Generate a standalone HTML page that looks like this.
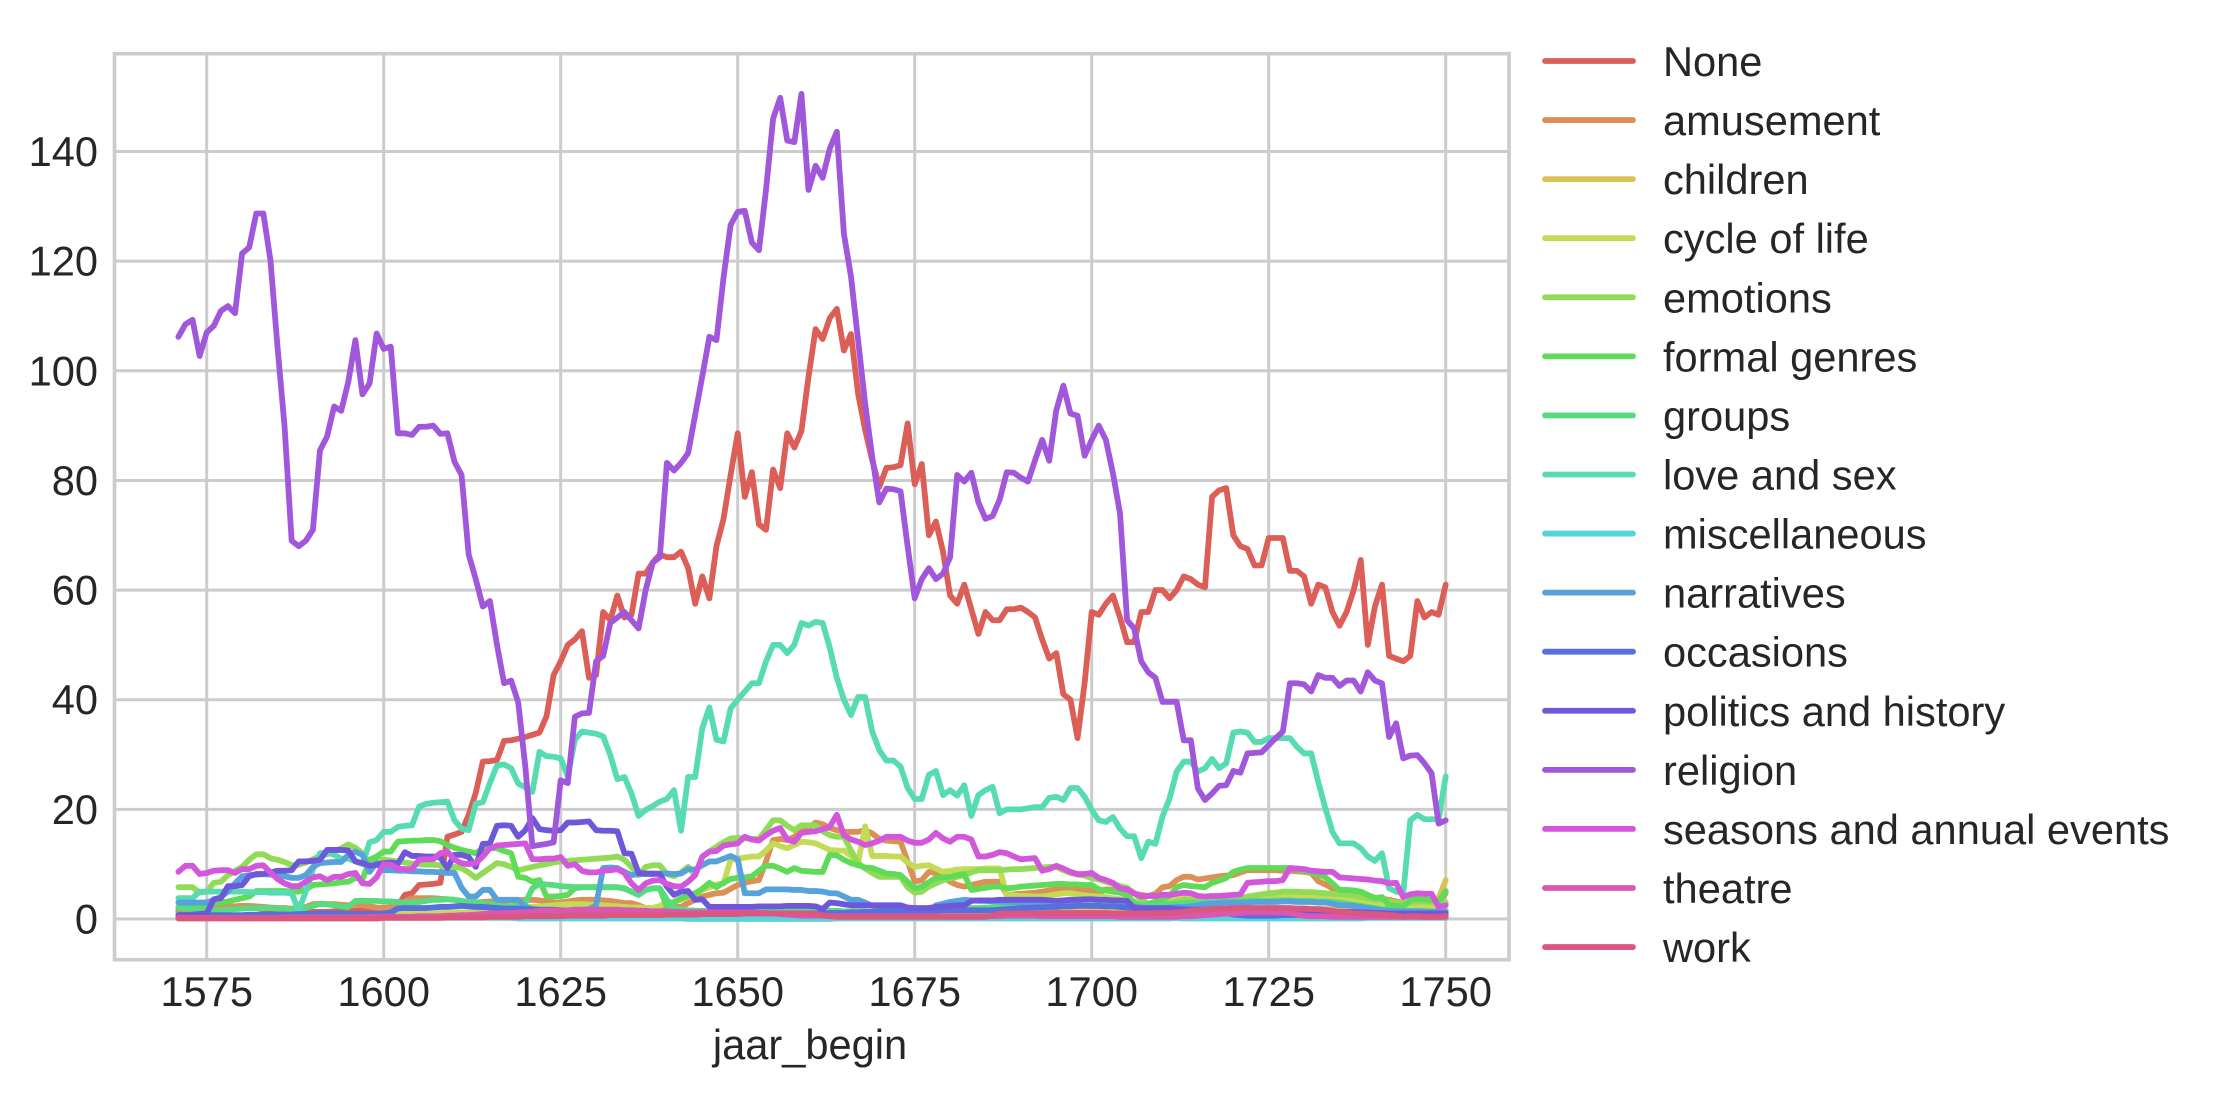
<!DOCTYPE html>
<html lang="en">
<head>
<meta charset="utf-8">
<title>Songs per theme by year</title>
<style>
html,body{margin:0;padding:0;background:#fff;}
svg{display:block;font-family:"Liberation Sans",Arial,sans-serif;}
text{fill:#262626;font-size:41.6px;}
</style>
</head>
<body>
<svg id="chart" xmlns="http://www.w3.org/2000/svg" width="2215" height="1097" viewBox="0 0 2215 1097">
  <rect x="0" y="0" width="2215" height="1097" fill="#ffffff"/>
  <g id="grid"></g>
  <g id="series"></g>
  <g id="spines"></g>
  <g id="xticks"></g>
  <g id="yticks"></g>
  <text x="810" y="1059" text-anchor="middle">jaar_begin</text>
  <g id="legend"></g>
</svg>
<script>
const firstYear = 1571;
const xTickLabels = [1575, 1600, 1625, 1650, 1675, 1700, 1725, 1750];
const yTickLabels = [0, 20, 40, 60, 80, 100, 120, 140];

const themeNames = ["None","amusement","children","cycle of life","emotions","formal genres","groups","love and sex","miscellaneous","narratives","occasions","politics and history","religion","seasons and annual events","theatre","work"];
const themeColors = ["#db5f57","#db9057","#dbc257","#c3db57","#91db57","#5fdb57","#57db80","#57dbb2","#57d3db","#57a2db","#5770db","#6f57db","#a157db","#d357db","#db57b2","#db5780"];

const valuesNone = [
1.5,1.6,1.7,1.8,2,2.2,2.2,2.3,2.3,2.4,
2.4,2,1.8,1.7,1.6,1.5,1.5,1.4,1.4,1.3,
1.3,1.3,1.4,1.4,1.5,1.5,1.6,1.7,1.8,1.9,
2,2.4,4.4,4.7,6.2,6.3,6.4,6.6,15,15.4,
15.9,19,23,28.7,28.8,29,32.5,32.6,32.9,33.2,
33.6,34,37,44.5,47,50,51,52.5,44,44.5,
56,54.5,59,55,55.5,63,63,65,66.5,66,
66,67,64,57.5,62.5,58.5,68,73,81,88.6,
77,81.5,72,71,82,78.6,88.6,86,89,98.9,
107.6,105.8,109.6,111.3,103.7,106.7,95.9,89.2,83.7,78.8,
82.3,82.4,82.8,90.4,79.3,83,70,72.5,67,59,
57.5,61,56.5,52,56,54.5,54.5,56.5,56.5,56.8,
56,55,51,47.5,48.5,41,40,33,43,56,
55.5,57.5,59,55,50.5,50.5,56,56,60,60,
58.5,60,62.5,62,61,60.5,77,78.2,78.6,70,
68,67.5,64.5,64.5,69.5,69.5,69.5,63.5,63.5,62.5,
57.5,61,60.5,56,53.5,56,60,65.5,50,57,
61,48,47.5,47,48,58,55,56,55.5,61];

const valuesAmusement = [
1.2,1.3,1.5,1.7,2,2.2,2.2,2.3,2.3,2.4,
2.4,2.3,2.2,2.1,2,2,1.9,2,2.2,2.7,
2.8,2.7,2.7,2.6,2.5,2.6,2.5,2.3,2.1,2,
2.2,2.6,3.2,3.8,3.8,3.8,3.8,3.7,3.6,3.5,
3.2,2.9,3,3.1,3.2,3.3,3.3,3.4,3.4,3.5,
3.5,3.4,3.2,3,3,3.2,3.4,3.5,3.5,3.5,
3.4,3.3,3.1,2.9,2.9,2.5,2,2,2,2.1,
2.2,2.2,2.9,3.5,4.1,4.4,4.7,4.8,5.5,6.2,
6.6,6.9,7.1,10.5,14.4,14.6,14.4,15,15.9,16.6,
17.6,17.3,16.6,16.2,15.9,15.9,15.9,16.2,15.6,14.6,
14.3,14.2,14.1,10.5,6.8,7.1,8.6,8.4,7.6,6.8,
6.2,5.9,6.2,6.5,6.8,6.8,6.8,4.4,4.5,4.6,
4.7,4.8,5,5.2,5.4,5.6,5.5,5.4,5.3,5.2,
4.8,5.4,5.3,5.1,4.9,4.6,4.4,4.2,4.6,5.8,
6,7.1,7.7,7.7,7.2,7.4,7.6,7.8,7.9,8,
8.5,8.9,8.9,8.9,8.9,8.9,8.8,8.8,8.7,8.6,
8.4,6.9,6.3,5.6,5.3,5,4.7,4.4,4.2,3.9,
3.7,3.5,3.2,3,3,3,3,3,3,4.7];

const valuesChildren = [
.3,.3,.3,.3,.3,.4,.4,.4,.4,.4,
.4,.4,.4,.4,.4,.4,.3,.3,.3,.3,
.3,.3,.3,.3,.3,.4,.4,.4,.4,.5,
.5,.5,.5,.6,.6,.6,.6,.6,.7,.7,
.7,.8,.8,.8,.9,.9,.9,1,1,1,
1,1,1.1,1.1,1.1,1.1,1.1,1.1,1,1,
1,1,1,1,1,.9,.9,.9,.9,.9,
.9,.9,.9,1,1,1,1.1,1.1,1.1,1.1,
1.1,1.2,1.2,1.2,1.2,1.2,1.2,1.2,1.2,1.2,
1.2,1.2,1.2,1.1,1.1,1.1,1.1,1.1,1,1,
1,1,1,1,1,1,1,1.1,1.1,1.1,
1.1,1.1,1.1,1.1,1.2,1.2,1.2,1.2,1.2,1.2,
1.2,1.2,1.3,1.3,1.3,1.3,1.4,1.4,1.4,1.4,
1.4,1.4,1.5,1.5,1.5,1.5,1.5,1.5,1.5,1.5,
1.6,1.6,1.6,1.6,1.7,1.7,1.7,1.7,1.8,1.8,
1.8,1.8,1.8,1.9,1.9,1.9,1.9,1.9,1.9,1.9,
1.9,1.8,1.8,1.8,1.8,1.7,1.7,1.7,1.6,1.6,
1.6,1.5,1.5,1.5,1.5,1.6,1.7,1.9,3.8,7.1];

const valuesCycleOfLife = [
.4,.4,.4,.4,.4,.4,.5,.5,.5,.5,
.5,.5,.5,.5,.5,.5,.5,.5,.5,.5,
.5,.5,.6,.6,.6,.6,.6,.6,.6,.7,
.7,.8,.9,1,1,1,1,1.1,1.1,1.2,
1.2,1.2,1.3,1.4,1.5,2,2,2.1,2.2,2.2,
2.2,2.3,2.4,2.5,2.6,2.7,2.7,2.7,2.6,2.6,
2.5,2.4,2.3,2.2,2.1,2.1,2,2,2.4,2.9,
3.2,3.5,4,4.6,5.3,5.8,6.3,6.5,10.8,11,
11.2,11.4,11.4,12.5,13.8,13.3,12.9,13.5,14.1,14,
13.8,13.2,12.6,12.5,12.5,11.5,10.2,16.9,11.5,11.5,
11.5,11.4,11.4,10.3,9.5,9.7,9.8,9.2,8.6,8.8,
9,9.1,9.1,9.1,9.2,9.2,9.2,4.4,4.3,4.2,
4.2,4.1,4.1,4.3,4.5,4.7,4.7,4.5,4.3,4.2,
4.1,4,3.8,3.6,3.5,3.2,2.5,2.2,2.6,3.1,
3.4,3.7,3.8,3.8,3.7,3.6,3.5,3.6,3.7,3.8,
3.8,3.9,3.9,4,4,4,4,4,4,3.9,
3.9,3.8,3.8,3.7,3.6,3.6,3.5,3.4,3.2,2.9,
2.7,2.5,2.4,2.6,2.6,2.5,2.4,2.3,2.2,2.9];

const valuesEmotions = [
5.8,5.8,5.8,4.8,5,6.6,6.8,8,8.8,9.5,
10.8,11.8,11.8,11.1,10.8,10.4,9.8,9.9,10.3,10.9,
11.5,11.8,12.4,12.9,13.6,13,12,10.2,10.8,10.8,
10.7,10.5,10.3,10.1,10,9.9,9.9,9.8,8.9,9.5,
9.3,8.5,7.5,8.4,9.3,10.2,10,9.5,8.9,9.2,
9.5,9.8,10,10.3,10.5,10.6,10.7,10.8,10.9,11,
11.1,11.2,11.4,10.8,9.5,8,9.5,9.8,9.8,8.2,
7.8,8.5,9.5,8,11.3,12.3,13.2,14,14.7,14.8,
14.7,14.6,14.6,16.3,18,18,17,16.2,17.1,17.1,
17.1,16,15.3,15,15,12.5,10.2,9.2,8.4,7.7,
7.7,7.7,7.7,5.8,4.8,5,5.9,6.5,7.1,7.4,
7.7,8,8.5,8.9,8.9,8.9,8.9,9,9.1,9.1,
9.2,9.3,9.4,9.5,9.5,8.9,8.4,8.1,7.9,7.5,
7.2,6.8,6.4,6,5.7,4.7,3.5,2.8,2.5,2.5,
2.8,3.2,3.5,3.5,3,2.8,3,3.5,3.6,3.6,
3.8,4.1,4.3,4.5,4.7,4.8,5,5,5,4.9,
4.9,4.8,4.7,4.6,4.5,4.4,4.3,4,3.8,3.5,
3.5,3.2,3,3,3,3.2,3.2,3.1,3,3];

const valuesFormalGenres = [
2.2,2.2,2.2,2.2,2.2,2.9,3,3.2,3.5,3.8,
4.1,5.1,5.1,5.1,5.1,5.1,5,5,5.4,6.2,
6.3,6.4,6.5,6.7,6.8,7.5,7.2,10.8,11.4,12.3,
12.3,14.1,14.2,14.3,14.3,14.4,14.4,14.2,13.5,13,
12.6,12.3,12,12.9,12.9,12.9,12.4,12,7.7,7.5,
6.8,7.1,4.1,4.1,4.2,4.4,5.6,5.8,5.8,5.8,
5.8,5.8,5.8,5.5,5,4.4,5.3,5.6,5.6,2.2,
3,3.8,4.2,4.7,5.5,6.6,5.8,6.6,7.3,7.5,
7.6,7.8,8.8,9.7,9.7,9.2,8.6,9.3,8.8,8.7,
8.6,8.6,11.7,11.6,10.8,10.2,9.8,9.4,9.3,8.8,
8.3,8.2,8,6.8,5.6,5.9,6.7,7.5,7.6,7.7,
8,8.2,5.3,5.5,5.7,5.9,5.9,5.6,5.7,5.9,
6,6.1,6.2,6.3,6.4,6.4,6.3,6.3,6.2,6.2,
5.4,5.2,5,4.8,4.4,2.9,2.4,2.7,3.2,3.5,
4.2,5.8,6.2,6,5.9,5.8,6.6,7,7.5,8.6,
9,9.3,9.3,9.3,9.3,9.3,9.3,9.3,9,8.8,
8.4,8.1,7.6,6.5,5.3,5.3,5.2,5,4.4,3.8,
4,2.5,2.4,2.2,3.5,3.7,3.6,3.5,3.1,5.1];

const valuesGroups = [
2,1.9,1.8,1.6,1.3,1.5,1.6,1.7,1.8,1.9,
2,2,2,2,1.9,1.9,1.8,1.8,2,2.4,
2.7,2.7,2.5,2.3,2.2,3.3,3.3,3.3,3.3,3.2,
3.2,3.1,3,3,3.1,3.3,3.5,3.5,3.6,3.5,
3.3,3.1,3,2.9,2.8,2.5,2.3,2.3,2.5,2.9,
5.6,6.4,6.3,6.2,6,5.9,5.8,5.8,5.8,5.8,
5.8,5.8,5.8,5.6,5,4.4,5.3,5.6,5.6,3.5,
2,1.8,1.6,1.5,1.5,1.4,1.4,1.4,1.4,1.4,
1.5,1.5,1.6,1.6,1.6,1.7,1.7,1.7,1.6,1.6,
1.6,1.5,1.5,1.5,1.4,1.4,1.4,1.4,1.3,1.3,
1.3,1.2,1.2,1.2,1.2,1.3,1.4,1.5,1.6,1.7,
1.8,1.9,2,2,2.1,2.1,2.2,2.2,2.3,2.3,
2.4,2.4,2.5,2.5,2.6,2.6,2.7,2.7,2.7,2.8,
2.8,2.8,2.7,2.7,2.6,2.5,2.5,2.4,2.5,2.6,
2.7,2.8,2.9,2.9,3,3,3.1,3.1,3.2,3.2,
3.2,3.3,3.3,3.3,3.3,3.4,3.4,3.4,3.3,3.3,
3.3,3.2,3.2,3.1,3,2.8,2.6,2.4,2.2,2,
1.8,1.7,1.6,1.5,1.5,1.5,1.5,1.4,1.4,1.5];

const valuesLoveAndSex = [
3.8,3.8,3.8,5,5,5,5,5,5,5,
4.9,4.9,4.9,4.8,4.8,4.8,4.7,1.6,5,9,
12,12.2,11.7,11,11,10.5,10,14,14.4,15.9,
15.9,16.8,17,17.1,20.5,21,21.2,21.3,21.4,18,
16.5,16.2,21,21.3,24.8,28,28.2,27.5,24.7,24,
23.2,30.5,29.7,29.6,29.3,26,32.7,34.2,34,33.8,
33.3,29.9,25.5,25.9,22.9,18.8,19.9,20.6,21.4,21.9,
23.5,16.1,25.9,25.9,34.8,38.6,32.7,32.4,38.4,40,
41.5,43,43,47,50,50,48.5,50,54,53.5,
54.2,54,49.5,44,40,37.2,40.5,40.5,34.2,30.8,
28.9,28.9,27.8,23.9,21.9,21.9,26.3,27,22.6,23.5,
22.5,24.4,18.8,22.6,23.5,24.1,19.3,20,20,20,
20.2,20.4,20.4,22.1,22.3,21.7,23.9,23.9,22.3,19.9,
18,17.7,18.6,16.5,15.1,15.1,11.1,14.1,13.7,18.7,
22,26.9,28.7,28.7,26.9,27.5,29.2,27.5,28.4,34,
34.2,34,32.3,32.3,33,33,33,33,31.4,30.2,
30.2,25,20.2,15.9,13.8,13.8,13.8,12.9,11.4,10.6,
12,5.6,5,4.7,18,19,18.2,18.2,18.2,26];

const valuesMiscellaneous = [
.6,.6,.5,.5,.5,.4,.4,.4,.4,.3,
.3,.3,.3,.3,.3,.3,.3,.3,.2,.2,
.2,.2,.2,.2,.2,.2,.2,.2,.2,.2,
.2,.2,.2,.2,.2,.2,.2,.2,.2,.2,
.2,.2,.2,.2,.2,.2,.2,.2,.1,.1,
.1,.1,.1,.1,.1,.1,.1,.1,.1,.1,
.1,.1,.1,.1,.1,.1,.1,.1,.1,.1,
.1,.1,0,0,0,0,0,0,0,0,
0,0,0,0,0,0,0,0,0,0,
0,0,0,.1,.1,.1,.1,.1,.1,.1,
.1,.1,.1,.1,.1,.1,.1,.1,.1,.1,
.1,.1,.1,.1,.1,.1,.1,.1,.1,.1,
.1,.1,.1,.1,.1,.1,.1,.1,.1,.1,
.1,.1,.1,.1,.1,.1,.1,.1,.1,.1,
.1,.2,.1,.1,.1,.1,.1,.1,.1,.1,
.1,.1,.1,.1,.1,.1,.1,.1,.1,.1,
.1,.1,.1,.1,.1,.1,.1,.1,.2,.2,
.2,.2,.2,.2,.2,.2,.2,.2,.2,.2];

const valuesNarratives = [
3,3,3,3,3,3.5,4,5,6.5,7.8,
8,8.1,8.2,8.1,8,7.8,7.5,7.5,8,9.5,
10.2,10.3,10.4,10.4,11.7,12.3,11.7,8.6,10.2,8.9,
8.9,8.8,8.8,8.7,8.7,8.6,8.6,8.5,8.4,8.4,
5.7,4.1,4.1,5.3,5.3,3.5,3.5,3.5,3.5,2.2,
1.8,1.6,1.5,1.4,1.4,1.4,1.5,1.6,1.8,2.5,
9.3,9.4,9.3,8.6,8,8.2,8.2,8.2,8.3,8.3,
8.2,8.3,9.1,9,9.8,10.5,10.5,11,11.5,10.9,
4.7,4.7,4.7,5.4,5.4,5.4,5.4,5.3,5.3,5.1,
5.1,5,4.7,4.7,4.1,3.5,3.5,3,2.4,2,
2,2,1.9,1.5,1.3,1.3,1.5,2.5,2.8,3.1,
3.3,3.5,3.4,3.3,3.3,3.2,3.2,3.1,3.1,3,
3,3,2.9,2.9,2.8,2.8,2.7,2.6,2.5,2.4,
2.4,2.4,2.4,2.3,2.3,2.3,2.1,2,2,2,
2.1,2.2,2.2,2.3,2.5,2.7,2.8,2.9,3,3,
3,3,3.1,3.1,3.1,3.1,3.2,3.2,3.1,3.1,
3.1,3,3,2.8,2.5,2.5,2.4,2.2,2,1.8,
1.6,1.5,1.5,1.4,1.4,1.4,1.3,1.3,1.3,1.3];

const valuesOccasions = [
.7,.7,.7,.7,.7,.7,.7,.7,.7,.7,
.8,.8,.8,.8,.8,.8,.8,.9,.9,.9,
1,1,1,1,.9,.9,.9,.9,.9,1,
1.2,1.9,2,2,2,2,2.1,2.2,2.2,2.3,
2.4,2.3,2.2,2.2,2.1,2,1.9,1.9,1.9,1.8,
1.8,1.7,1.7,1.7,1.6,1.5,1.5,1.4,1.3,1.3,
1.2,1.2,1.2,1.2,1.1,1,1,1,1,1,
1,1,1,1,1,1,1,1,1.1,1.1,
1.1,1.1,1.1,1,1,1,1,1,1,1,
1,1,1.1,1.1,1.1,1.2,1.2,1.3,1.3,1.4,
1.4,1.4,1.4,1.5,1.5,1.5,1.5,1.5,1.6,1.6,
1.6,1.6,1.6,1.6,1.6,1.6,1.7,1.8,1.9,2,
2,2.1,2.1,2.2,2.2,2.3,2.3,2.4,2.4,2.4,
2.4,2.3,2.3,2.2,2.1,2,2,2,2,2,
2,1.9,1.8,1.7,1.6,1.5,1.4,1.3,1.1,.8,
.7,.6,.6,.6,.6,.6,.7,.7,.7,.7,
.7,.6,.6,.6,.6,.6,.7,.8,.8,.9,
.9,.9,.9,1,1,1,1,1,1,1];

const valuesPolitics = [
.7,.7,.8,.9,1,3.6,3.8,6,6,6.2,
7.8,8.2,8.2,8.5,8.8,8.8,8.9,10.5,10.5,10.6,
10.8,12.6,12.6,12.6,12.5,10.5,10.2,9.7,9.9,10.2,
10.3,10.1,12.2,11.5,11.5,11.4,11.4,11.2,9.3,11.7,
11.7,11.3,9.5,13.7,13.8,17,17.1,17,15,16.2,
18.4,16.4,16.2,16.1,16.2,17.6,17.6,17.7,17.8,16.2,
16.1,16.1,16,12,11.9,8.4,8.3,8.3,8.2,5.9,
4.4,5,5.1,3.5,3.6,2.2,2.2,2.2,2.2,2.2,
2.2,2.2,2.3,2.3,2.3,2.3,2.4,2.4,2.4,2.4,
2.3,1.8,3,2.9,2.7,2.5,2.5,2.5,2.5,2.5,
2.5,2.5,2.5,2.1,2,2,2,2.2,2.3,2.4,
2.5,2.5,3.3,3.4,3.4,3.4,3.5,3.5,3.5,3.5,
3.5,3.5,3.5,3.4,3.3,3.4,3.5,3.5,3.6,3.6,
3.5,3.5,3.4,3.4,3.3,2,1.9,1.8,1.8,1.8,
1.8,1.8,1.7,1.7,1.7,1.7,1.6,1.6,1.6,1.6,
1.6,1.6,1.6,1.6,1.5,1.5,1.5,1.5,1.5,1.5,
1.5,1.4,1.4,1.4,1.3,1.3,1.3,1.2,1.2,1.1,
1.1,1,1,1,1,1,1,1,1,1];

const valuesReligion = [
106.2,108.5,109.3,102.7,107,108.2,110.9,111.8,110.5,121.4,
122.5,128.7,128.7,120.2,104.4,89.8,69,68,69,71,
85.5,88,93.5,92.7,98,105.6,95.7,97.7,106.8,104,
104.4,88.6,88.6,88.3,89.8,89.8,90,88.5,88.6,83.4,
81,66.5,62,57,58,50,43,43.5,39.5,27.8,
13.3,13.5,13.7,14,25.3,24.8,36.9,37.5,37.6,47,
48,54,55,56,54.5,53,60,65,66,83.2,
81.8,83.2,85,92,99,106.2,105.6,117,126.6,129,
129.2,123.4,122,133,146,149.8,142,141.7,150.5,133,
137.4,135.2,140.5,143.6,125,117.2,105.6,94,84.3,76,
78.5,78.4,78,68,58.5,62,64,62,63,66,
81,79.8,81.4,76,73,73.5,76.5,81.5,81.4,80.5,
79.8,83.7,87.4,83.6,92.8,97.3,92.2,91.8,84.5,87.4,
90,87.4,81.3,74,54.5,53,47,45,44,39.6,
39.6,39.6,32.6,32.6,23.8,21.7,22.9,24.3,24.4,27,
26.7,30.2,30.3,30.4,31.7,33,34.2,43,43,42.8,
41.5,44.5,44,44,42.5,43.5,43.5,41.5,45,43.5,
43,33.2,35.7,29.3,29.8,29.9,28.4,26.6,17.4,18];

const valuesSeasons = [
8.6,9.7,9.7,8.2,8.4,8.8,8.9,8.9,8.4,9.1,
9.1,9.7,9.8,8.5,7.3,6.5,6,6,6.8,7.6,
7.8,7.1,7.7,7.7,8.2,8.4,6.5,6.4,7.6,10,
9.9,9.2,9.1,9.1,10.8,10.9,10.9,12,12.3,10.8,
10.2,10,10.2,11.4,12.9,13.4,13.5,13.6,13.7,13.8,
10.9,10.9,11,11,11.3,9.7,10,8.8,8.5,8.5,
8.8,8.9,9.1,8.4,6.5,5.3,6.5,7,7.1,6.4,
6,5.9,6.8,8,11.4,12.3,12.4,13.4,13.6,13.8,
15,14.5,14.3,15.3,16.1,16.6,14.5,14.1,15.7,15.9,
16,16.4,16.8,19,15.3,14.5,14.1,13.5,13.8,14.3,
15,15,15,14.3,13.9,13.9,14.5,15.7,14.7,14.1,
15,15,14.5,11.4,11.4,11.7,12.2,12,11.4,10.9,
11,11.1,8.8,9.1,9.7,9.2,8.6,8.2,8.2,8.4,
7.5,7.1,6.6,5.6,5.4,4.7,4.1,4.2,4.2,4.4,
4.4,4.6,4.8,4.7,4.2,4.1,4.2,4.2,4.3,4.4,
4.5,6.6,6.7,6.8,6.9,6.9,7.1,9.3,9.2,9.1,
8.8,8.7,8.6,8.6,7.6,7.5,7.4,7.3,7.2,7,
6.9,6.5,6.6,4,4.5,4.7,4.6,4.6,2.2,2.5];

const valuesTheatre = [
.2,.2,.2,.2,.2,.2,.2,.2,.2,.2,
.2,.2,.2,.2,.2,.3,.3,.3,.3,.3,
.3,.3,.3,.3,.3,.3,.3,.4,.4,.4,
.4,.4,.4,.4,.5,.5,.5,.5,.6,.6,
.7,.7,.8,.9,1,1,1.1,1.1,1.2,1.2,
1.3,1.5,1.5,1.6,1.6,1.6,1.7,1.7,1.7,1.7,
1.7,1.7,1.7,1.6,1.6,1.5,1.5,1.4,1.4,1.4,
1.3,1.3,1.2,1.2,1.2,1.2,1.2,1.2,1.2,1.2,
1.2,1.1,1.1,1.1,1,.9,.8,.7,.6,.6,
.6,.6,.5,.5,.5,.5,.5,.5,.5,.5,
.5,.5,.5,.5,.5,.5,.5,.5,.5,.5,
.5,.5,.5,.5,.5,.5,.5,.6,.6,.6,
.6,.6,.5,.5,.5,.5,.5,.5,.5,.5,
.5,.5,.5,.4,.4,.4,.4,.4,.4,.4,
.4,.4,.5,.5,.6,.7,.8,.9,1,1,
1.1,1.2,1.2,1.2,1.2,1.2,1.2,1.1,.8,.6,
.5,.5,.5,.4,.4,.4,.4,.4,.4,.4,
.4,.4,.4,.4,.4,.4,.4,.4,.4,.5];

const valuesWork = [
.1,.1,.1,.1,.1,.1,.1,.1,.1,.1,
.1,.1,.1,.1,.1,.1,.1,.1,.1,.1,
.1,.1,.1,.1,.1,.1,.1,.1,.1,.2,
.2,.2,.2,.2,.2,.2,.2,.2,.3,.3,
.3,.3,.3,.3,.4,.4,.4,.4,.4,.5,
.5,.5,.5,.5,.5,.6,.6,.6,.6,.6,
.6,.7,.7,.7,.7,.7,.7,.7,.7,.8,
.8,.8,.8,.8,.9,.9,.9,.9,.9,.9,
1,1,1,1,1,1,1,1,1,1,
.9,.7,.5,.4,.4,.4,.4,.4,.4,.4,
.4,.4,.4,.4,.4,.4,.4,.4,.4,.4,
.4,.4,.4,.4,.4,.6,1,1,1,1,
1,1,1,1.1,1.1,1.1,1.1,1.1,1.1,1.1,
1.1,1.1,1,1,1,1,1,1,1.1,1.1,
1.1,1.2,1.3,1.5,1.6,1.7,1.8,1.9,1.9,2,
2,2,2,2,2,2,2,2,1.9,1.9,
1.8,1.8,1.7,1.5,1.3,1.2,1.1,1,.9,.9,
.8,.7,.6,.4,.5,.5,.4,.4,.4,.4];

const seriesValues = [valuesNone,valuesAmusement,valuesChildren,valuesCycleOfLife,valuesEmotions,valuesFormalGenres,valuesGroups,valuesLoveAndSex,valuesMiscellaneous,valuesNarratives,valuesOccasions,valuesPolitics,valuesReligion,valuesSeasons,valuesTheatre,valuesWork];

const NS = "http://www.w3.org/2000/svg";
const plot = {left:114.5, right:1509, top:53.7, bottom:959.7};
function xScale(year){ return 206.7 + (year - 1575) * 7.08; }
function yScale(value){ return 919 - value * 5.482; }
function make(tag, parent, attrs){
  const el = document.createElementNS(NS, tag);
  for (const k in attrs) el.setAttribute(k, attrs[k]);
  parent.appendChild(el);
  return el;
}
function slug(s){ return s.toLowerCase().replace(/\s+/g, '-'); }

const gridG = document.getElementById('grid');
const xTickG = document.getElementById('xticks');
const yTickG = document.getElementById('yticks');
const spineG = document.getElementById('spines');
const seriesG = document.getElementById('series');
const legendG = document.getElementById('legend');

xTickLabels.forEach(function(year){
  const x = xScale(year);
  const line = make('line', gridG, {x1:x, x2:x, y1:plot.top, y2:plot.bottom, stroke:'#cccccc', 'stroke-width':3});
  
  
  const label = make('text', xTickG, {x:x, y:1006, 'text-anchor':'middle'});
  label.textContent = year;
  
  
});

yTickLabels.forEach(function(value){
  const y = yScale(value);
  const line = make('line', gridG, {x1:plot.left, x2:plot.right, y1:y, y2:y, stroke:'#cccccc', 'stroke-width':3});
  
  
  const label = make('text', yTickG, {x:98, y:y + 14.5, 'text-anchor':'end'});
  label.textContent = value;
  
  
});

const frame = make('rect', spineG, {x:plot.left, y:plot.top, width:plot.right - plot.left, height:plot.bottom - plot.top, fill:'none', stroke:'#cccccc', 'stroke-width':3.6});



themeNames.forEach(function(name, s){
  const vals = seriesValues[s];
  let d = '';
  vals.forEach(function(v, i){
    d += (i ? 'L' : 'M') + xScale(firstYear + i).toFixed(2) + ' ' + yScale(v).toFixed(2);
  });
  const path = make('path', seriesG, {d:d, fill:'none', stroke:themeColors[s], 'stroke-width':5.8, 'stroke-linejoin':'round', 'stroke-linecap':'round'});
  
  

  const rowY = 61 + s * 59.07;
  const entry = make('g', legendG, {});
  
  
  const swatch = make('line', entry, {x1:1545, x2:1633, y1:rowY, y2:rowY, stroke:themeColors[s], 'stroke-width':5.8, 'stroke-linecap':'round'});
  
  
  const label = make('text', entry, {x:1663, y:rowY + 15});
  label.textContent = name;
  
  
});
</script>
</body>
</html>
